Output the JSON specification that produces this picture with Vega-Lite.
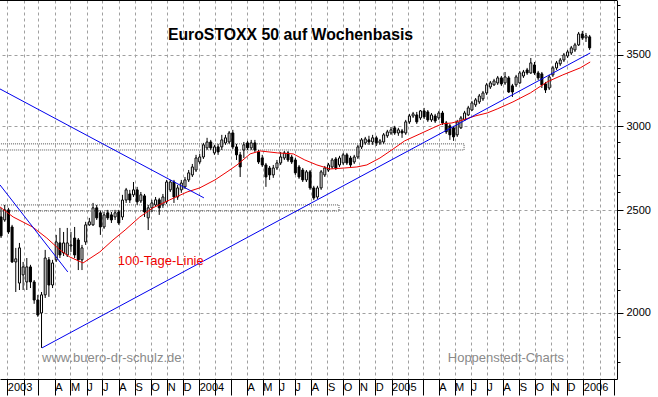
{
  "$schema": "https://vega.github.io/schema/vega-lite/v6.json",
  "width": 617,
  "height": 379,
  "autosize": {"type": "none"},
  "padding": {"left": 0, "top": 0, "right": 41, "bottom": 18},
  "background": "white",
  "config": {"view": {"stroke": null}, "font": "Liberation Sans"},
  "title": {
    "text": "EuroSTOXX 50 auf Wochenbasis",
    "font": "Liberation Sans",
    "fontSize": 15.8,
    "fontWeight": "bold",
    "color": "black",
    "anchor": "middle",
    "baseline": "alphabetic",
    "offset": -57,
    "dx": -18
  },
  "datasets": {
    "candles": [
      {"d":"2002-12-20","o":2463,"h":2512,"l":2353,"c":2364},
      {"d":"2002-12-27","o":2447,"h":2528,"l":2437,"c":2501},
      {"d":"2003-01-03","o":2501,"h":2512,"l":2374,"c":2384},
      {"d":"2003-01-10","o":2410,"h":2421,"l":2229,"c":2234},
      {"d":"2003-01-17","o":2234,"h":2303,"l":2093,"c":2249},
      {"d":"2003-01-24","o":2134,"h":2328,"l":2102,"c":2303},
      {"d":"2003-01-31","o":2172,"h":2234,"l":2102,"c":2210},
      {"d":"2003-02-07","o":2139,"h":2253,"l":2102,"c":2210},
      {"d":"2003-02-14","o":2210,"h":2220,"l":2111,"c":2139},
      {"d":"2003-02-21","o":2139,"h":2148,"l":2040,"c":2057},
      {"d":"2003-02-28","o":2057,"h":2080,"l":1983,"c":1991},
      {"d":"2003-03-07","o":2000,"h":2093,"l":1854,"c":2080},
      {"d":"2003-03-14","o":2080,"h":2293,"l":2066,"c":2253},
      {"d":"2003-03-21","o":2244,"h":2258,"l":2071,"c":2125},
      {"d":"2003-03-28","o":2125,"h":2244,"l":2111,"c":2229},
      {"d":"2003-04-04","o":2244,"h":2369,"l":2234,"c":2333},
      {"d":"2003-04-11","o":2328,"h":2405,"l":2253,"c":2268},
      {"d":"2003-04-18","o":2278,"h":2384,"l":2263,"c":2328},
      {"d":"2003-04-25","o":2268,"h":2405,"l":2258,"c":2328},
      {"d":"2003-05-02","o":2313,"h":2384,"l":2283,"c":2318},
      {"d":"2003-05-09","o":2353,"h":2410,"l":2253,"c":2268},
      {"d":"2003-05-16","o":2343,"h":2353,"l":2195,"c":2244},
      {"d":"2003-05-23","o":2244,"h":2318,"l":2195,"c":2303},
      {"d":"2003-05-30","o":2333,"h":2437,"l":2318,"c":2421},
      {"d":"2003-06-06","o":2421,"h":2458,"l":2416,"c":2437},
      {"d":"2003-06-13","o":2421,"h":2539,"l":2416,"c":2512},
      {"d":"2003-06-20","o":2512,"h":2528,"l":2447,"c":2458},
      {"d":"2003-06-27","o":2485,"h":2495,"l":2369,"c":2410},
      {"d":"2003-07-04","o":2410,"h":2490,"l":2400,"c":2474},
      {"d":"2003-07-11","o":2485,"h":2501,"l":2447,"c":2458},
      {"d":"2003-07-18","o":2474,"h":2490,"l":2431,"c":2447},
      {"d":"2003-07-25","o":2463,"h":2501,"l":2447,"c":2485},
      {"d":"2003-08-01","o":2490,"h":2501,"l":2421,"c":2431},
      {"d":"2003-08-08","o":2463,"h":2584,"l":2447,"c":2555},
      {"d":"2003-08-15","o":2555,"h":2623,"l":2539,"c":2612},
      {"d":"2003-08-22","o":2589,"h":2612,"l":2539,"c":2555},
      {"d":"2003-08-29","o":2584,"h":2657,"l":2572,"c":2612},
      {"d":"2003-09-05","o":2612,"h":2629,"l":2528,"c":2545},
      {"d":"2003-09-12","o":2550,"h":2600,"l":2539,"c":2584},
      {"d":"2003-09-19","o":2578,"h":2589,"l":2463,"c":2490},
      {"d":"2003-09-26","o":2458,"h":2528,"l":2394,"c":2512},
      {"d":"2003-10-03","o":2512,"h":2556,"l":2490,"c":2539},
      {"d":"2003-10-10","o":2528,"h":2572,"l":2517,"c":2556},
      {"d":"2003-10-17","o":2556,"h":2567,"l":2474,"c":2512},
      {"d":"2003-10-24","o":2528,"h":2589,"l":2512,"c":2572},
      {"d":"2003-10-31","o":2545,"h":2669,"l":2533,"c":2657},
      {"d":"2003-11-07","o":2612,"h":2669,"l":2600,"c":2657},
      {"d":"2003-11-14","o":2657,"h":2669,"l":2539,"c":2572},
      {"d":"2003-11-21","o":2572,"h":2640,"l":2556,"c":2623},
      {"d":"2003-11-28","o":2612,"h":2669,"l":2595,"c":2651},
      {"d":"2003-12-05","o":2629,"h":2686,"l":2617,"c":2669},
      {"d":"2003-12-12","o":2669,"h":2727,"l":2657,"c":2710},
      {"d":"2003-12-19","o":2698,"h":2763,"l":2686,"c":2745},
      {"d":"2003-12-26","o":2727,"h":2818,"l":2715,"c":2799},
      {"d":"2004-01-02","o":2775,"h":2824,"l":2763,"c":2805},
      {"d":"2004-01-09","o":2805,"h":2892,"l":2793,"c":2880},
      {"d":"2004-01-16","o":2861,"h":2924,"l":2848,"c":2898},
      {"d":"2004-01-23","o":2898,"h":2911,"l":2848,"c":2861},
      {"d":"2004-01-30","o":2830,"h":2880,"l":2818,"c":2867},
      {"d":"2004-02-06","o":2867,"h":2886,"l":2818,"c":2836},
      {"d":"2004-02-13","o":2867,"h":2943,"l":2848,"c":2911},
      {"d":"2004-02-20","o":2892,"h":2943,"l":2880,"c":2924},
      {"d":"2004-02-27","o":2898,"h":2968,"l":2886,"c":2955},
      {"d":"2004-03-05","o":2955,"h":2975,"l":2854,"c":2867},
      {"d":"2004-03-12","o":2867,"h":2886,"l":2787,"c":2818},
      {"d":"2004-03-19","o":2818,"h":2836,"l":2686,"c":2745},
      {"d":"2004-03-26","o":2848,"h":2898,"l":2799,"c":2880},
      {"d":"2004-04-02","o":2892,"h":2905,"l":2848,"c":2861},
      {"d":"2004-04-09","o":2861,"h":2911,"l":2848,"c":2892},
      {"d":"2004-04-16","o":2892,"h":2911,"l":2836,"c":2848},
      {"d":"2004-04-23","o":2836,"h":2848,"l":2763,"c":2775},
      {"d":"2004-04-30","o":2799,"h":2818,"l":2745,"c":2757},
      {"d":"2004-05-07","o":2757,"h":2769,"l":2629,"c":2686},
      {"d":"2004-05-14","o":2739,"h":2751,"l":2669,"c":2698},
      {"d":"2004-05-21","o":2698,"h":2757,"l":2681,"c":2739},
      {"d":"2004-05-28","o":2739,"h":2787,"l":2727,"c":2769},
      {"d":"2004-06-04","o":2769,"h":2836,"l":2757,"c":2805},
      {"d":"2004-06-11","o":2799,"h":2842,"l":2787,"c":2830},
      {"d":"2004-06-18","o":2830,"h":2842,"l":2775,"c":2787},
      {"d":"2004-06-25","o":2805,"h":2818,"l":2763,"c":2775},
      {"d":"2004-07-02","o":2787,"h":2799,"l":2698,"c":2710},
      {"d":"2004-07-09","o":2745,"h":2757,"l":2675,"c":2686},
      {"d":"2004-07-16","o":2727,"h":2739,"l":2657,"c":2669},
      {"d":"2004-07-23","o":2669,"h":2727,"l":2657,"c":2716},
      {"d":"2004-07-30","o":2716,"h":2727,"l":2612,"c":2623},
      {"d":"2004-08-06","o":2623,"h":2635,"l":2556,"c":2567},
      {"d":"2004-08-13","o":2572,"h":2635,"l":2561,"c":2623},
      {"d":"2004-08-20","o":2623,"h":2727,"l":2612,"c":2716},
      {"d":"2004-08-27","o":2698,"h":2751,"l":2686,"c":2739},
      {"d":"2004-09-03","o":2727,"h":2769,"l":2716,"c":2757},
      {"d":"2004-09-10","o":2745,"h":2799,"l":2733,"c":2787},
      {"d":"2004-09-17","o":2793,"h":2805,"l":2727,"c":2739},
      {"d":"2004-09-24","o":2757,"h":2812,"l":2745,"c":2799},
      {"d":"2004-10-01","o":2769,"h":2830,"l":2757,"c":2818},
      {"d":"2004-10-08","o":2818,"h":2830,"l":2757,"c":2769},
      {"d":"2004-10-15","o":2799,"h":2812,"l":2745,"c":2757},
      {"d":"2004-10-22","o":2775,"h":2818,"l":2763,"c":2805},
      {"d":"2004-10-29","o":2805,"h":2880,"l":2793,"c":2867},
      {"d":"2004-11-05","o":2867,"h":2923,"l":2854,"c":2911},
      {"d":"2004-11-12","o":2892,"h":2930,"l":2880,"c":2917},
      {"d":"2004-11-19","o":2911,"h":2937,"l":2880,"c":2898},
      {"d":"2004-11-26","o":2898,"h":2943,"l":2880,"c":2924},
      {"d":"2004-12-03","o":2924,"h":2937,"l":2873,"c":2892},
      {"d":"2004-12-10","o":2892,"h":2917,"l":2880,"c":2905},
      {"d":"2004-12-17","o":2898,"h":2955,"l":2886,"c":2943},
      {"d":"2004-12-24","o":2937,"h":2975,"l":2924,"c":2962},
      {"d":"2004-12-31","o":2955,"h":2994,"l":2943,"c":2975},
      {"d":"2005-01-07","o":2988,"h":3001,"l":2943,"c":2955},
      {"d":"2005-01-14","o":2955,"h":2988,"l":2937,"c":2975},
      {"d":"2005-01-21","o":2968,"h":2981,"l":2924,"c":2955},
      {"d":"2005-01-28","o":2955,"h":3040,"l":2943,"c":3027},
      {"d":"2005-02-04","o":3027,"h":3080,"l":3014,"c":3066},
      {"d":"2005-02-11","o":3066,"h":3093,"l":3053,"c":3080},
      {"d":"2005-02-18","o":3073,"h":3093,"l":3014,"c":3027},
      {"d":"2005-02-25","o":3053,"h":3106,"l":3040,"c":3100},
      {"d":"2005-03-04","o":3100,"h":3120,"l":3046,"c":3060},
      {"d":"2005-03-11","o":3093,"h":3106,"l":3027,"c":3040},
      {"d":"2005-03-18","o":3040,"h":3086,"l":3027,"c":3073},
      {"d":"2005-03-25","o":3066,"h":3080,"l":3020,"c":3033},
      {"d":"2005-04-01","o":3053,"h":3100,"l":3040,"c":3086},
      {"d":"2005-04-08","o":3086,"h":3100,"l":3007,"c":3020},
      {"d":"2005-04-15","o":3020,"h":3033,"l":2949,"c":2962},
      {"d":"2005-04-22","o":3001,"h":3014,"l":2911,"c":2943},
      {"d":"2005-04-29","o":2988,"h":3001,"l":2905,"c":2930},
      {"d":"2005-05-06","o":2943,"h":3040,"l":2930,"c":3027},
      {"d":"2005-05-13","o":2988,"h":3066,"l":2981,"c":3053},
      {"d":"2005-05-20","o":3040,"h":3100,"l":3033,"c":3086},
      {"d":"2005-05-27","o":3073,"h":3134,"l":3066,"c":3120},
      {"d":"2005-06-03","o":3106,"h":3168,"l":3100,"c":3154},
      {"d":"2005-06-10","o":3141,"h":3188,"l":3127,"c":3175},
      {"d":"2005-06-17","o":3161,"h":3216,"l":3147,"c":3202},
      {"d":"2005-06-24","o":3182,"h":3237,"l":3168,"c":3223},
      {"d":"2005-07-01","o":3223,"h":3294,"l":3209,"c":3280},
      {"d":"2005-07-08","o":3265,"h":3308,"l":3251,"c":3294},
      {"d":"2005-07-15","o":3280,"h":3323,"l":3273,"c":3308},
      {"d":"2005-07-22","o":3294,"h":3344,"l":3280,"c":3330},
      {"d":"2005-07-29","o":3330,"h":3344,"l":3273,"c":3287},
      {"d":"2005-08-05","o":3294,"h":3373,"l":3280,"c":3337},
      {"d":"2005-08-12","o":3330,"h":3344,"l":3223,"c":3230},
      {"d":"2005-08-19","o":3273,"h":3287,"l":3195,"c":3230},
      {"d":"2005-08-26","o":3280,"h":3352,"l":3265,"c":3337},
      {"d":"2005-09-02","o":3294,"h":3381,"l":3287,"c":3366},
      {"d":"2005-09-09","o":3344,"h":3388,"l":3330,"c":3373},
      {"d":"2005-09-16","o":3388,"h":3403,"l":3352,"c":3366},
      {"d":"2005-09-23","o":3366,"h":3477,"l":3359,"c":3440},
      {"d":"2005-09-30","o":3425,"h":3447,"l":3352,"c":3366},
      {"d":"2005-10-07","o":3366,"h":3381,"l":3315,"c":3330},
      {"d":"2005-10-14","o":3359,"h":3373,"l":3258,"c":3280},
      {"d":"2005-10-21","o":3287,"h":3301,"l":3223,"c":3244},
      {"d":"2005-10-28","o":3258,"h":3352,"l":3244,"c":3337},
      {"d":"2005-11-04","o":3352,"h":3418,"l":3337,"c":3403},
      {"d":"2005-11-11","o":3403,"h":3455,"l":3388,"c":3440},
      {"d":"2005-11-18","o":3433,"h":3477,"l":3418,"c":3462},
      {"d":"2005-11-25","o":3462,"h":3515,"l":3447,"c":3500},
      {"d":"2005-12-02","o":3492,"h":3538,"l":3477,"c":3523},
      {"d":"2005-12-09","o":3515,"h":3569,"l":3500,"c":3554},
      {"d":"2005-12-16","o":3538,"h":3593,"l":3523,"c":3577},
      {"d":"2005-12-23","o":3577,"h":3679,"l":3569,"c":3663},
      {"d":"2005-12-30","o":3663,"h":3687,"l":3616,"c":3632},
      {"d":"2006-01-06","o":3632,"h":3671,"l":3600,"c":3648},
      {"d":"2006-01-13","o":3640,"h":3655,"l":3538,"c":3554}
    ],
    "ma": [
      {"d":"2002-12-18","p":2517},
      {"d":"2003-01-12","p":2463},
      {"d":"2003-02-18","p":2410},
      {"d":"2003-03-17","p":2353},
      {"d":"2003-04-11","p":2293},
      {"d":"2003-04-30","p":2258},
      {"d":"2003-05-25","p":2229},
      {"d":"2003-06-26","p":2283},
      {"d":"2003-07-21","p":2343},
      {"d":"2003-08-13","p":2394},
      {"d":"2003-09-10","p":2463},
      {"d":"2003-10-05","p":2512},
      {"d":"2003-11-06","p":2556},
      {"d":"2003-12-09","p":2600},
      {"d":"2004-01-02","p":2623},
      {"d":"2004-01-31","p":2669},
      {"d":"2004-02-23","p":2716},
      {"d":"2004-03-13","p":2757},
      {"d":"2004-04-07","p":2824},
      {"d":"2004-04-26","p":2842},
      {"d":"2004-05-29","p":2830},
      {"d":"2004-06-28","p":2824},
      {"d":"2004-07-20","p":2787},
      {"d":"2004-08-12","p":2757},
      {"d":"2004-09-06","p":2733},
      {"d":"2004-10-04","p":2739},
      {"d":"2004-10-27","p":2745},
      {"d":"2004-11-15","p":2757},
      {"d":"2004-12-10","p":2799},
      {"d":"2005-01-04","p":2854},
      {"d":"2005-01-26","p":2905},
      {"d":"2005-02-24","p":2949},
      {"d":"2005-03-21","p":2988},
      {"d":"2005-04-07","p":3014},
      {"d":"2005-04-26","p":3020},
      {"d":"2005-05-17","p":3040},
      {"d":"2005-06-09","p":3066},
      {"d":"2005-07-02","p":3086},
      {"d":"2005-07-21","p":3113},
      {"d":"2005-08-20","p":3161},
      {"d":"2005-09-22","p":3223},
      {"d":"2005-10-24","p":3301},
      {"d":"2005-11-23","p":3352},
      {"d":"2005-12-26","p":3403},
      {"d":"2006-01-14","p":3447}
    ],
    "trend": [
      {"id":"a","d":"2002-12-18","p":3251},
      {"id":"a","d":"2004-01-10","p":2567},
      {"id":"b","d":"2002-12-18","p":2640},
      {"id":"b","d":"2003-04-26","p":2186},
      {"id":"c","d":"2003-03-08","p":1854},
      {"id":"c","d":"2006-01-14","p":3515}
    ],
    "zones": [
      {"d1":"2002-12-01","d2":"2005-05-19","lo":2848,"hi":2886},
      {"d1":"2002-12-01","d2":"2004-09-23","lo":2495,"hi":2528}
    ],
    "notes": [
      {"d":"2003-07-30","p":2239,"t":"100-Tage-Linie","k":"ma"},
      {"d":"2003-03-08","p":1814,"t":"www.buero-dr-schulz.de","k":"credit"},
      {"d":"2005-04-18","p":1814,"t":"Hoppenstedt-Charts","k":"credit"}
    ]
  },
  "encoding": {
    "x": {
      "field": "d",
      "type": "temporal",
      "title": null,
      "scale": {
        "type": "utc",
        "padding": 0,
        "domain": [
          {"year": 2002, "month": 12, "date": 18, "utc": true},
          {"year": 2006, "month": 3, "date": 6, "utc": true}
        ]
      },
      "axis": {
        "orient": "bottom",
        "tickCount": {"interval": "month", "step": 1},
        "grid": true,
        "gridDash": [3, 3],
        "gridColor": "#a0a0a0",
        "gridWidth": 1,
        "domainColor": "black",
        "tickColor": "black",
        "tickSize": 16,
        "labelPadding": -14,
        "labelAlign": "left",
        "labelBaseline": "top",
        "labelDx": 2,
        "labelFont": "Liberation Sans",
        "labelFontSize": 11,
        "labelColor": "black",
        "labelOverlap": false,
        "labelFlush": false,
        "labelExpr": "utcmonth(datum.value) === 0 ? '' + utcyear(datum.value) : (utcmonth(datum.value) < 3 ? '' : ['J','F','M','A','M','J','J','A','S','O','N','D'][utcmonth(datum.value)])"
      }
    }
  },
  "layer": [
    {
      "data": {"name": "zones"},
      "mark": {"type": "rect", "fill": "white", "fillOpacity": 0, "stroke": "#555555", "strokeWidth": 1, "strokeDash": [1, 1], "clip": true},
      "encoding": {
        "x": {"field": "d1", "type": "temporal", "title": null, "scale": {"type": "utc", "padding": 0}},
        "x2": {"field": "d2"},
        "y": {
          "field": "lo",
          "type": "quantitative",
          "title": null,
          "scale": {"type": "log", "domain": [1733, 3943], "nice": false, "zero": false},
          "axis": {
            "orient": "right",
            "values": [1800, 1900, 2000, 2100, 2200, 2300, 2400, 2500, 2600, 2700, 2800, 2900, 3000, 3100, 3200, 3300, 3400, 3500, 3600, 3700, 3800, 3900],
            "format": "d",
            "labelExpr": "datum.value % 500 === 0 ? datum.label : ''",
            "grid": true,
            "gridDash": [3, 3],
            "gridColor": "#a0a0a0",
            "gridOpacity": {"condition": {"test": "datum.value % 500 === 0", "value": 1}, "value": 0},
            "tickSize": {"condition": {"test": "datum.value % 500 === 0", "value": 6}, "value": 3},
            "tickColor": "black",
            "domainColor": "black",
            "labelPadding": 3,
            "labelFont": "Liberation Sans",
            "labelFontSize": 11,
            "labelColor": "black",
            "labelOverlap": false,
            "labelFlush": false
          }
        },
        "y2": {"field": "hi"}
      }
    },
    {
      "data": {"name": "candles"},
      "mark": {"type": "rule", "color": "black", "strokeWidth": 1},
      "encoding": {
        "y": {"field": "l", "type": "quantitative", "title": null},
        "y2": {"field": "h"}
      }
    },
    {
      "data": {"name": "candles"},
      "mark": {"type": "bar", "size": 2, "stroke": "black", "strokeWidth": 1},
      "encoding": {
        "y": {"field": "o", "type": "quantitative", "title": null},
        "y2": {"field": "c"},
        "fill": {"condition": {"test": "datum.c >= datum.o", "value": "white"}, "value": "black"}
      }
    },
    {
      "data": {"name": "ma"},
      "mark": {"type": "line", "color": "#ee0000", "strokeWidth": 1},
      "encoding": {
        "y": {"field": "p", "type": "quantitative", "title": null}
      }
    },
    {
      "data": {"name": "trend"},
      "mark": {"type": "line", "color": "#0000ee", "strokeWidth": 1, "clip": true},
      "encoding": {
        "y": {"field": "p", "type": "quantitative", "title": null},
        "detail": {"field": "id"}
      }
    },
    {
      "data": {"values": [{"top": 3943}]},
      "mark": {"type": "rule", "color": "black", "strokeWidth": 2},
      "encoding": {
        "x": null,
        "y": {"field": "top", "type": "quantitative", "title": null}
      }
    },
    {
      "data": {"name": "notes"},
      "mark": {"type": "text", "align": "left", "baseline": "middle", "font": "Liberation Sans", "fontSize": 13},
      "encoding": {
        "y": {"field": "p", "type": "quantitative", "title": null},
        "text": {"field": "t"},
        "color": {"field": "k", "type": "nominal", "scale": {"domain": ["ma", "credit"], "range": ["#ee0000", "#8a8a8a"]}, "legend": null}
      }
    }
  ]
}
